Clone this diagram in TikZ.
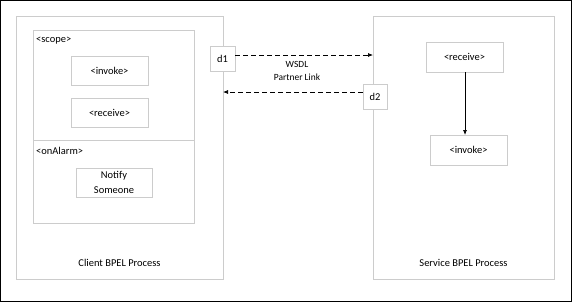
\documentclass[tikz,border=0pt]{standalone}
\usepackage{fontspec}
\setmainfont{Carlito}
\usetikzlibrary{arrows.meta}
\begin{document}
\begin{tikzpicture}[x=1bp,y=-1bp,
  box/.style={draw=gray!40,line width=0.8bp,fill=white},
  shadowed/.style={preaction={draw=gray!18,line width=1.2bp,transform canvas={shift={(0.8bp,-0.8bp)}}}},
  lbl/.style={font=\fontsize{10.5}{14.5}\selectfont,inner sep=0pt,align=center},
  arr/.style={-{Latex[length=5bp,width=4bp]},line width=0.7bp},
  dsh/.style={arr,dash pattern=on 5bp off 3bp}]
\useasboundingbox (0,0) rectangle (572,302);
\draw[line width=1bp] (0.5,0.5) rectangle (571.5,301.5);
% client
\draw[box,shadowed] (16,16) rectangle (223,279);
\coordinate (cR) at (223,92);
\draw[box,shadowed] (33,30) rectangle (194,223);
\draw[draw=gray!40,line width=0.8bp] (33,140) -- (194,140);
\node[lbl,anchor=west] (scopel) at (36,41) {<scope>};
\node[lbl,anchor=west] (alarml) at (36,151) {<onAlarm>};
\node[box,shadowed,lbl,minimum width=77bp,minimum height=29bp] (cinv) at (109.5,70.5) {<invoke>};
\node[box,shadowed,lbl,minimum width=77bp,minimum height=29bp] (crec) at (109.5,112.5) {<receive>};
\node[box,shadowed,lbl,minimum width=76bp,minimum height=29bp] (notify) at (114,182.5) {Notify\\Someone};
\node[lbl] (clientl) at (119.5,263) {Client BPEL Process};
% service
\draw[box,shadowed] (373,16) rectangle (554,279);
\coordinate (sL) at (373,55);
\node[box,shadowed,lbl,minimum width=77bp,minimum height=30bp] (srec) at (464.5,57) {<receive>};
\node[box,shadowed,lbl,minimum width=77bp,minimum height=30bp] (sinv) at (468.5,150) {<invoke>};
\node[lbl] (servl) at (463.5,263) {Service BPEL Process};
\draw[arr] (srec.south -| 465,0) -- (465,135);
% partner link
\node[box,shadowed,lbl,minimum width=25bp,minimum height=25bp] (d1) at (222.5,58.5) {d1};
\node[box,shadowed,lbl,minimum width=24bp,minimum height=25bp] (d2) at (375,96.5) {d2};
\draw[dsh] (d1.east |- 0,55) -- (sL);
\draw[dsh] (d2.west |- 0,92) -- (cR);
\node[lbl,font=\fontsize{9.5}{13}\selectfont] (wsdl) at (297,70.5) {WSDL\\Partner Link};
\end{tikzpicture}
\end{document}
